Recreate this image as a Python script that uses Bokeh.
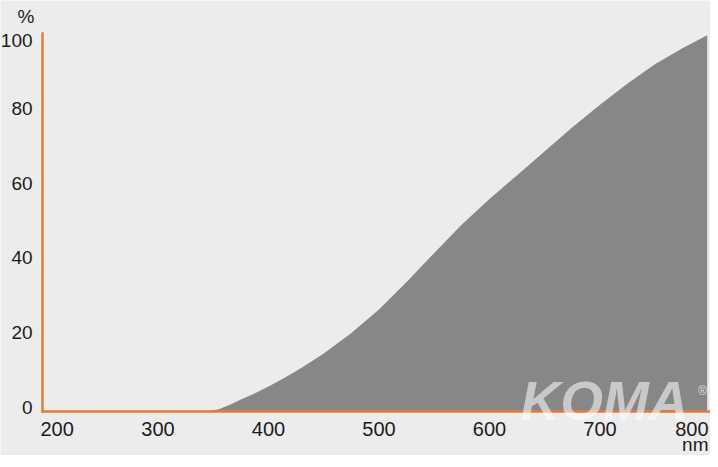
from bokeh.plotting import figure
from bokeh.models import Range1d
from bokeh.core.properties import value
from bokeh.embed import file_html
from bokeh.resources import INLINE

# Data (wavelength in nm, transmission in %)
wavelength = [200, 345, 355, 365, 375, 385, 400, 415, 430, 450, 475, 500,
              525, 550, 575, 600, 625, 650, 675, 700, 725, 750, 775, 797]
transmission = [0, 0, 0.6, 1.8, 3.2, 4.5, 6.7, 9.1, 11.7, 15.5, 21.0, 27.3,
                34.6, 42.4, 50.0, 56.8, 63.2, 69.6, 76.0, 82.0, 87.7, 92.9, 97.2, 100.6]

x_ticks = [200, 300, 400, 500, 600, 700, 800]
y_ticks = [0, 20, 40, 60, 80, 100]
x_unit = "nm"
y_unit = "%"
brand = "KOMA"

# ---- layout / style constants ----
FONT = "Liberation Sans"
BG = "#ececec"
ORANGE = "#e07d3c"
FILL = "#878787"
TXT = "#1c1c1c"
PX_X = 1.105          # px per nm
PX_Y = 3.74           # px per %
X0_PX = 47            # canvas x of 200 nm
Y0_PX = 411           # canvas y of 0 %
AXIS_X = 195.5        # vertical axis line position (nm)
AXIS_TOP = 101.1      # top of vertical axis line (%)
AXIS_RIGHT = 799.0    # right end of horizontal axis line (nm)

W, H = 710, 455
x_start = 200 - X0_PX / PX_X
x_end = x_start + W / PX_X
y_start = -(H - Y0_PX) / PX_Y
y_end = y_start + H / PX_Y


def px_y(py):
    return (Y0_PX - py) / PX_Y


def px_x(px):
    return 200 + (px - X0_PX) / PX_X


p = figure(width=W, height=H,
           x_range=Range1d(x_start, x_end), y_range=Range1d(y_start, y_end),
           output_backend="svg", toolbar_location=None,
           x_axis_location=None, y_axis_location=None, min_border=0)
p.background_fill_color = BG
p.border_fill_color = BG
p.outline_line_color = None
p.grid.visible = False

# filled transmission curve
p.varea(x=wavelength, y1=0, y2=transmission, fill_color=FILL, fill_alpha=1.0)

# orange axis lines
p.segment(x0=[AXIS_X, AXIS_X], y0=[0, 0], x1=[AXIS_X, AXIS_RIGHT], y1=[AXIS_TOP, 0],
          line_color=ORANGE, line_width=2.5, line_cap="square")

common = dict(text_baseline="middle", text_font=value(FONT), text_color=TXT)

# x tick labels
xl_y = px_y(428.5)
mid = x_ticks[1:-1]
p.text(x=mid, y=[xl_y] * len(mid), text=[str(t) for t in mid],
       text_align="center", text_font_size="20px", **common)
p.text(x=[x_ticks[0]], y=[xl_y], text=[str(x_ticks[0])], x_offset=-7,
       text_align="left", text_font_size="20px", **common)
p.text(x=[x_ticks[-1]], y=[xl_y], text=[str(x_ticks[-1])], x_offset=-2,
       text_align="right", text_font_size="20px", **common)
p.text(x=[x_ticks[-1]], y=[px_y(443.5)], text=[x_unit], x_offset=-2,
       text_align="right", text_font_size="19px", **common)

# y tick labels
nudge = 4 / PX_Y
y_max_label = px_y(40)
yl = [min(t + nudge, y_max_label) for t in y_ticks]
p.text(x=[AXIS_X] * len(y_ticks), y=yl, text=[str(t) for t in y_ticks], x_offset=-10,
       text_align="right", text_font_size="19px", **common)
p.text(x=[AXIS_X], y=[px_y(16)], text=[y_unit], x_offset=-25,
       text_align="left", text_font_size="19px", **common)

# watermark
p.text(x=[px_x(604)], y=[px_y(400)], text=[brand],
       text_align="center", text_baseline="middle",
       text_font=value(FONT), text_font_size="55px", text_font_style="bold italic",
       text_color="white", text_alpha=0.55)
p.text(x=[px_x(702)], y=[px_y(390)], text=["\u00ae"],
       text_align="center", text_baseline="middle",
       text_font=value(FONT), text_font_size="12px",
       text_color="white", text_alpha=0.7)

open("out.html", "w").write(file_html(p, INLINE))
